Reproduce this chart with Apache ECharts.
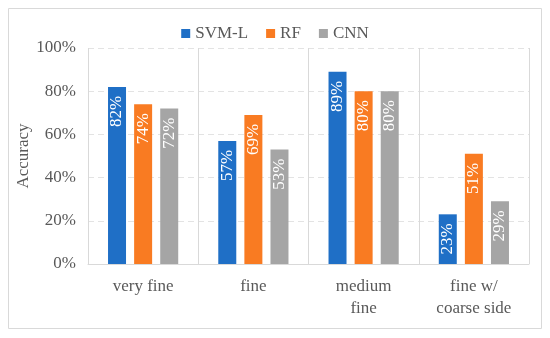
<!DOCTYPE html>
<html><head><meta charset="utf-8">
<script src="https://cdn.jsdelivr.net/npm/echarts@6/dist/echarts.min.js"></script>
<style>html,body{margin:0;padding:0;background:#fff}#c{width:550px;height:338px}</style>
</head><body><div id="c"></div>
<script>
const categories = ['very fine', 'fine', 'medium\nfine', 'fine w/\ncoarse side'];
const seriesNames = ['SVM-L', 'RF', 'CNN'];
const svmL = [82, 57, 89, 23];
const rf = [74, 69, 80, 51];
const cnn = [72, 53, 80, 29];
const yTicks = [0, 20, 40, 60, 80, 100];
const colors = ['#1f6fc6', '#f97b22', '#a5a5a5'];
const font = '"Liberation Serif", "Times New Roman", serif';

const chart = echarts.init(document.getElementById('c'), null, {renderer: 'canvas'});
const mk = (name, data, color) => ({
  name, type: 'bar', data, barWidth: 18, barGap: '45%',
  itemStyle: {color},
  label: {
    show: true, position: 'insideTop', rotate: 90, align: 'right', verticalAlign: 'middle',
    distance: 9, color: '#fff', fontFamily: font, fontSize: 17,
    formatter: p => p.value + '%'
  }
});
chart.setOption({
  animation: false,
  textStyle: {fontFamily: font},
  graphic: [{type: 'rect', shape: {x: 8.5, y: 8.5, width: 533, height: 320}, style: {fill: 'none', stroke: '#d9d9d9', lineWidth: 1}, silent: true}],
  legend: {
    top: 20, left: 'center', itemWidth: 9, itemHeight: 9, itemGap: 18, icon: 'rect',
    textStyle: {fontFamily: font, fontSize: 17, color: '#595959'},
    data: seriesNames
  },
  grid: {left: 88, right: 21, top: 48, bottom: 74},
  xAxis: {
    type: 'category', data: categories,
    axisLine: {lineStyle: {color: '#d9d9d9'}},
    axisTick: {show: false},
    splitLine: {show: true, lineStyle: {color: '#d9d9d9'}},
    axisLabel: {fontFamily: font, fontSize: 17, color: '#595959', lineHeight: 22, margin: 12, interval: 0}
  },
  yAxis: {
    type: 'value', min: 0, max: 100, interval: 20,
    name: 'Accuracy', nameLocation: 'middle', nameGap: 56, nameMoveOverlap: false,
    nameTextStyle: {fontFamily: font, fontSize: 17, color: '#595959'},
    axisLine: {show: false}, axisTick: {show: false},
    splitLine: {lineStyle: {color: '#e3e3e3', type: [6, 4]}},
    axisLabel: {fontFamily: font, fontSize: 17, color: '#595959', margin: 12,
      formatter: v => yTicks.includes(v) ? v + '%' : ''}
  },
  series: [mk(seriesNames[0], svmL, colors[0]), mk(seriesNames[1], rf, colors[1]), mk(seriesNames[2], cnn, colors[2])]
});
</script></body></html>
